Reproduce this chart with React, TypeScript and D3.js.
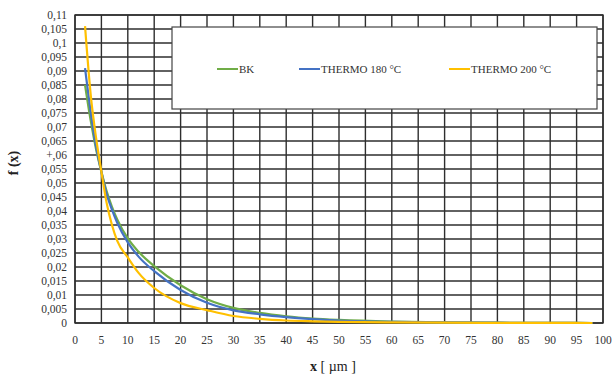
import React from "react";
import * as d3 from "d3";

const xTicks = [0, 5, 10, 15, 20, 25, 30, 35, 40, 45, 50, 55, 60, 65, 70, 75, 80, 85, 90, 95, 100];
const yTicks = [0, 0.005, 0.01, 0.015, 0.02, 0.025, 0.03, 0.035, 0.04, 0.045, 0.05, 0.055, 0.06, 0.065, 0.07, 0.075, 0.08, 0.085, 0.09, 0.095, 0.1, 0.105, 0.11];
const yTickLabels = ["0", "0,005", "0,01", "0,015", "0,02", "0,025", "0,03", "0,035", "0,04", "0,045", "0,05", "0,055", "+,06", "0,065", "0,07", "0,075", "0,08", "0,085", "0,09", "0,095", "0,1", "0,105", "0,11"];

const xs = [1.9, 3, 4, 5, 6, 7, 8, 10, 12, 15, 20, 25, 30, 35, 40, 45, 50, 60, 70, 80, 90, 98];
const bk = [0.085, 0.072, 0.062, 0.054, 0.047, 0.0415, 0.037, 0.0302, 0.0255, 0.0203, 0.0135, 0.0085, 0.0054, 0.0036, 0.0024, 0.0016, 0.0011, 0.0005, 0.0002, 0.0001, 0.00003, 0];
const thermo180 = [0.091, 0.075, 0.063, 0.054, 0.046, 0.0405, 0.0358, 0.0288, 0.0238, 0.0185, 0.0118, 0.0072, 0.0045, 0.0031, 0.0021, 0.0014, 0.0009, 0.0004, 0.0002, 0.0001, 0.00003, 0];
const thermo200 = [0.106, 0.081, 0.066, 0.054, 0.0428, 0.035, 0.0293, 0.0234, 0.018, 0.0125, 0.0071, 0.0046, 0.0025, 0.0015, 0.0009, 0.0006, 0.0004, 0.0002, 0.0001, 0.00005, 0.00002, 0];

const seriesNames = ["BK", "THERMO 180 °C", "THERMO 200 °C"];
const seriesColors = ["#70AD47", "#4472C4", "#FFC000"];
const seriesValues = [bk, thermo180, thermo200];

export default function App() {
  const W = 612, H = 374;
  const left = 75, right = 603, top = 15, bottom = 323;
  const x = d3.scaleLinear().domain([0, 100]).range([left, right]);
  const y = d3.scaleLinear().domain([0, 0.11]).range([bottom, top]);
  const line = (vals: number[]) =>
    d3.line<number>().x((_, i) => x(xs[i])).y((v) => y(v)).curve(d3.curveMonotoneX)(vals) || "";

  const font = "'Liberation Serif', 'Times New Roman', serif";
  const legendX = [217, 299, 449];

  return (
    <svg width={W} height={H} style={{ position: "absolute", left: 0, top: 0, background: "#fff" }} fontFamily={font}>
      <rect x={0} y={0} width={W} height={H} fill="#fff" />
      {xTicks.map((t) => (
        <line key={"gx" + t} x1={x(t)} x2={x(t)} y1={top} y2={bottom} stroke="#2e2e2e" strokeWidth={1.4} />
      ))}
      {yTicks.map((t) => (
        <line key={"gy" + t} x1={left} x2={right} y1={y(t)} y2={y(t)} stroke="#2e2e2e" strokeWidth={1.4} />
      ))}
      <rect x={left} y={top} width={right - left} height={bottom - top} fill="none" stroke="#2e2e2e" strokeWidth={1.4} />
      {yTicks.map((t, i) => (
        <text key={"ty" + t} x={67} y={y(t)} dy="0.35em" textAnchor="end" fontSize={11.5} fill="#333">
          {yTickLabels[i]}
        </text>
      ))}
      {xTicks.map((t) => (
        <text key={"tx" + t} x={x(t)} y={340} dy="0.35em" textAnchor="middle" fontSize={11.5} fill="#333">
          {t}
        </text>
      ))}
      {seriesValues.map((vals, i) => (
        <path key={"s" + i} d={line(vals)} fill="none" stroke={seriesColors[i]} strokeWidth={2.2} />
      ))}
      <rect x={172} y={27} width={425} height={82} fill="#fff" stroke="#444" strokeWidth={1.2} />
      {seriesNames.map((n, i) => (
        <g key={"lg" + i}>
          <line x1={legendX[i]} x2={legendX[i] + 21} y1={69} y2={69} stroke={seriesColors[i]} strokeWidth={2} />
          <text x={legendX[i] + 22} y={69} dy="0.35em" fontSize={11} fill="#333">{n}</text>
        </g>
      ))}
      <text transform="translate(18,163) rotate(-90)" textAnchor="middle" fontSize={14} fontWeight="bold" fill="#222">
        f (x)
      </text>
      <text x={333} y={366} dy="0.35em" textAnchor="middle" fontSize={14} fill="#222">
        <tspan fontWeight="bold">x</tspan> [ µm ]
      </text>
    </svg>
  );
}
